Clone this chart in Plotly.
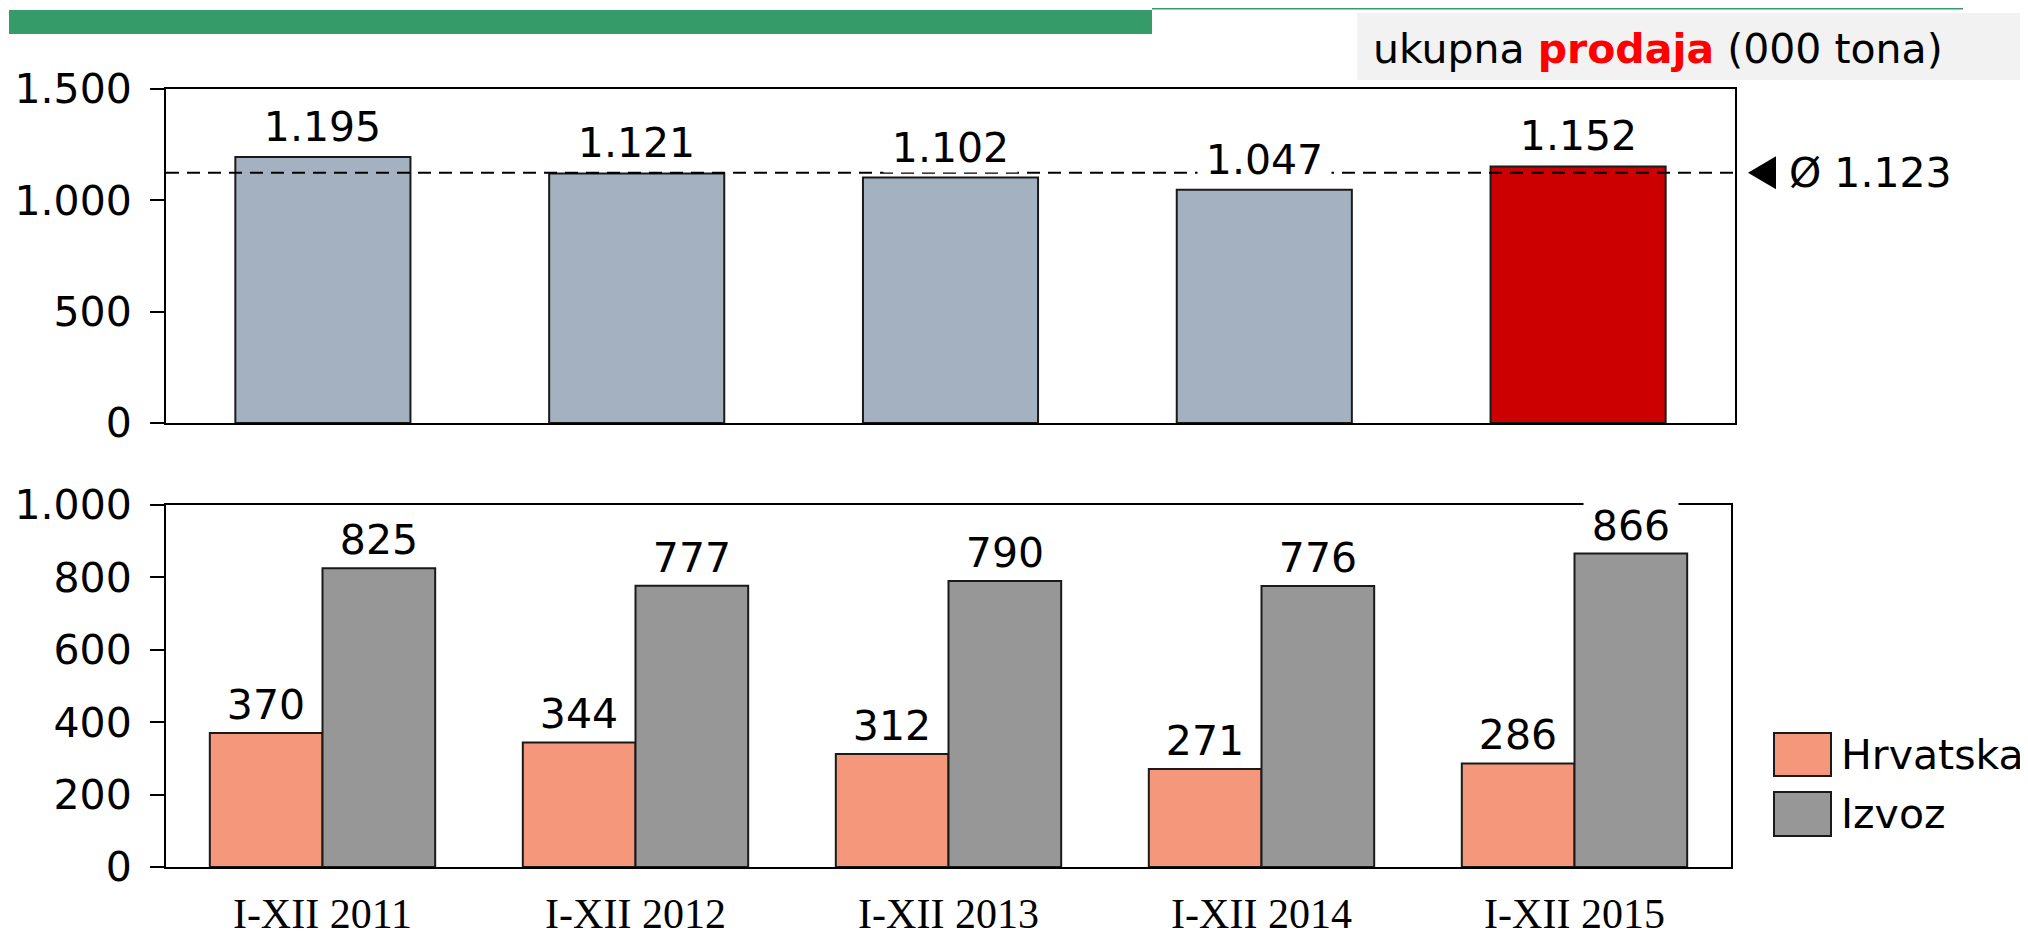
import plotly.graph_objects as go

W, H = 2028, 936
OFF = 8  # page body margin

# data
periods = ['I-XII 2011', 'I-XII 2012', 'I-XII 2013', 'I-XII 2014', 'I-XII 2015']
total_sales = [1195, 1121, 1102, 1047, 1152]
domestic = [370, 344, 312, 271, 286]
export = [825, 777, 790, 776, 866]
series_names = ['Hrvatska', 'Izvoz']

SANS = 'DejaVu Sans'
SERIF = 'Liberation Serif'
FS = 41
OUTLINE = dict(color='#1a1a1a', width=2)

# plot areas in screen px
top_x0, top_x1, top_y0, top_y1 = 166, 1735, 89, 423
bot_x0, bot_x1, bot_y0, bot_y1 = 166, 1731, 505, 867


def fmt(v):
    return f'{v:,.0f}'.replace(',', '.')


def px(x):
    return (x - OFF) / W


def py(y):
    return 1 - (y - OFF) / H


def label_width(txt):
    return int(sum(13 if c == '.' else 26 for c in txt) + 16)


avg = sum(total_sales) / len(total_sales)
top_colors = ['#A3B1C0'] * (len(total_sales) - 1) + ['#CC0000']

fig = go.Figure()

# top: total sales
fig.add_trace(go.Bar(
    x=periods, y=total_sales,
    width=0.558,
    marker=dict(color=top_colors, line=OUTLINE),
    xaxis='x', yaxis='y',
    showlegend=False, hoverinfo='skip',
))

# bottom: domestic vs export
bottom_colors = ['#F4977A', '#979797']
for name, vals, col in zip(series_names, [domestic, export], bottom_colors):
    fig.add_trace(go.Bar(
        x=periods, y=vals, name=name,
        marker=dict(color=col, line=OUTLINE),
        xaxis='x2', yaxis='y2',
        showlegend=False, hoverinfo='skip',
    ))

annotations = []
for p, v in zip(periods, total_sales):
    t = fmt(v)
    annotations.append(dict(
        x=p, y=v, xref='x', yref='y', text=t, showarrow=False,
        yanchor='bottom', yshift=5, bgcolor='white', borderpad=0,
        width=label_width(t), font=dict(family=SANS, size=FS, color='black'),
    ))

bargap = 0.28
cat_px = (bot_x1 - bot_x0) / len(periods)
shift = cat_px * (1 - bargap) / 4
for vals, sgn in [(domestic, -1), (export, 1)]:
    for p, v in zip(periods, vals):
        t = fmt(v)
        annotations.append(dict(
            x=p, y=v, xref='x2', yref='y2', text=t, showarrow=False,
            xshift=sgn * shift, yanchor='bottom', yshift=3,
            bgcolor='white', borderpad=0, width=label_width(t),
            font=dict(family=SANS, size=FS, color='black'),
        ))

# average label
annotations.append(dict(
    x=px(1787), y=avg, xref='paper', yref='y', text='Ø ' + fmt(avg),
    showarrow=False, xanchor='left', yanchor='middle',
    font=dict(family=SANS, size=FS, color='black'),
))

# header text
annotations.append(dict(
    x=px(1371), y=py(49), xref='paper', yref='paper',
    text='ukupna <b><span style="color:#FF0000">prodaja</span></b> (000 tona)',
    showarrow=False, xanchor='left', yanchor='middle',
    font=dict(family=SANS, size=41, color='black'),
))

# legend text
leg_rows = [(733, 776), (792, 836)]
for name, (y0, y1) in zip(series_names, leg_rows):
    annotations.append(dict(
        x=px(1839), y=py((y0 + y1) / 2), xref='paper', yref='paper',
        text=name, showarrow=False, xanchor='left', yanchor='middle',
        font=dict(family=SANS, size=FS, color='black'),
    ))

shapes = [
    # header bars
    dict(type='rect', xref='paper', yref='paper', x0=px(9), x1=px(1152),
         y0=py(34), y1=py(10), fillcolor='#359B68', line_width=0, layer='below'),
    dict(type='rect', xref='paper', yref='paper', x0=px(1152), x1=px(1963),
         y0=py(9.5), y1=py(7), fillcolor='#359B68', line_width=0, layer='below'),
    dict(type='rect', xref='paper', yref='paper', x0=px(1357), x1=px(2024),
         y0=py(80), y1=py(13), fillcolor='#F2F2F2', line_width=0, layer='below'),
    # average line
    dict(type='line', xref='x domain', yref='y', x0=0, x1=1, y0=avg, y1=avg,
         line=dict(color='black', width=2, dash='13px,8px')),
    # average marker
    dict(type='path', xref='paper', yref='y',
         xsizemode='pixel', ysizemode='pixel', xanchor=px(top_x1), yanchor=avg,
         path='M13,0 L41,16.5 L41,-16.5 Z', fillcolor='black', line_width=0),
]
for col, (y0, y1) in zip(bottom_colors, leg_rows):
    shapes.append(dict(type='rect', xref='paper', yref='paper',
                       x0=px(1774), x1=px(1831), y0=py(y1), y1=py(y0),
                       fillcolor=col, line=OUTLINE))

axis_common = dict(showline=True, mirror=True, linecolor='black', linewidth=2,
                   showgrid=False, zeroline=False, automargin=False)

fig.update_layout(
    width=W, height=H,
    margin=dict(l=0, r=0, t=0, b=0, pad=0, autoexpand=False),
    paper_bgcolor='white', plot_bgcolor='white',
    separators=',.',
    barmode='group', bargap=bargap, bargroupgap=0,
    xaxis=dict(domain=[px(top_x0), px(top_x1)], anchor='y', type='category',
               showticklabels=False, ticks='', **axis_common),
    yaxis=dict(domain=[py(top_y1), py(top_y0)], anchor='x', range=[0, 1500],
               dtick=500, tickformat=',d', ticks='outside', ticklen=14,
               tickwidth=2, tickcolor='black', ticklabelstandoff=10,
               tickfont=dict(family=SANS, size=FS, color='black'), **axis_common),
    xaxis2=dict(domain=[px(bot_x0), px(bot_x1)], anchor='y2', type='category',
                ticks='', ticklabelstandoff=9,
                tickfont=dict(family=SERIF, size=42, color='black'), **axis_common),
    yaxis2=dict(domain=[py(bot_y1), py(bot_y0)], anchor='x2', range=[0, 1000],
                dtick=200, tickformat=',d', ticks='outside', ticklen=14,
                tickwidth=2, tickcolor='black', ticklabelstandoff=10,
                tickfont=dict(family=SANS, size=FS, color='black'), **axis_common),
    annotations=annotations,
    shapes=shapes,
)

fig.write_html('out.html')
